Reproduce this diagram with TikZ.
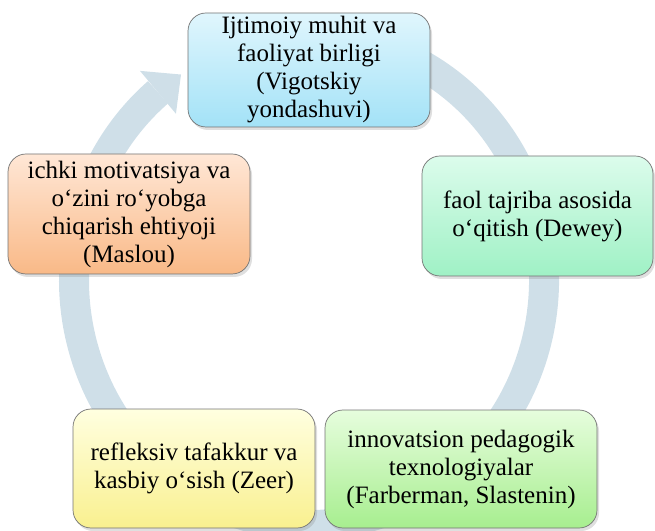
\documentclass[tikz,border=0pt]{standalone}
\usepackage{fontspec}
\setmainfont{Liberation Serif}
\usepackage{tikz}
\usetikzlibrary{shadows}

\definecolor{ringblue}{HTML}{CFDFE8}
\definecolor{vigtop}{HTML}{E0F6FD}
\definecolor{vigbot}{HTML}{A3E2F7}
\definecolor{dewtop}{HTML}{DCFCEC}
\definecolor{dewbot}{HTML}{9FF1C5}
\definecolor{fartop}{HTML}{E6FDDD}
\definecolor{farbot}{HTML}{A7EE8F}
\definecolor{zeetop}{HTML}{FFFFE0}
\definecolor{zeebot}{HTML}{F9F08F}
\definecolor{mastop}{HTML}{FFE7D6}
\definecolor{masbot}{HTML}{F9B987}

\tikzset{
  stage/.style={draw=black!55, line width=0.7pt, rounded corners=18pt,
    align=center, inner sep=0pt, font=\fontsize{25}{28}\selectfont,
    drop shadow={opacity=0.25, shadow xshift=2pt, shadow yshift=-3pt}},
}

\begin{document}
\begin{tikzpicture}[x=1pt, y=1pt]
\useasboundingbox (0,0) rectangle (655,530);

% ring %
\begin{scope}[shift={(309,250)}]
\draw[ringblue, line width=30pt] (112:235 and 245)
  arc[start angle=112, end angle=-230, x radius=235, y radius=245];
\fill[ringblue] (130:263 and 273) -- (123:235 and 245) -- (130:207 and 217) -- cycle;
\end{scope}

% nodes %
\node[stage, top color=vigtop, bottom color=vigbot, minimum width=242pt, minimum height=114pt] (vig) at (309,460)
  {Ijtimoiy muhit va\\ faoliyat birligi\\ (Vigotskiy\\ yondashuvi)};
\node[stage, top color=dewtop, bottom color=dewbot, minimum width=231pt, minimum height=120pt] (dew) at (537.5,314)
  {faol tajriba asosida\\ o‘qitish (Dewey)};
\node[stage, top color=fartop, bottom color=farbot, minimum width=272pt, minimum height=118pt] (far) at (461,61)
  {innovatsion pedagogik\\ texnologiyalar\\ (Farberman, Slastenin)};
\node[stage, top color=zeetop, bottom color=zeebot, minimum width=242pt, minimum height=119pt] (zee) at (194,61.5)
  {refleksiv tafakkur va\\ kasbiy o‘sish (Zeer)};
\node[stage, top color=mastop, bottom color=masbot, minimum width=242pt, minimum height=120pt] (mas) at (129,316)
  {ichki motivatsiya va\\ o‘zini ro‘yobga\\ chiqarish ehtiyoji\\ (Maslou)};

\end{tikzpicture}
\end{document}
